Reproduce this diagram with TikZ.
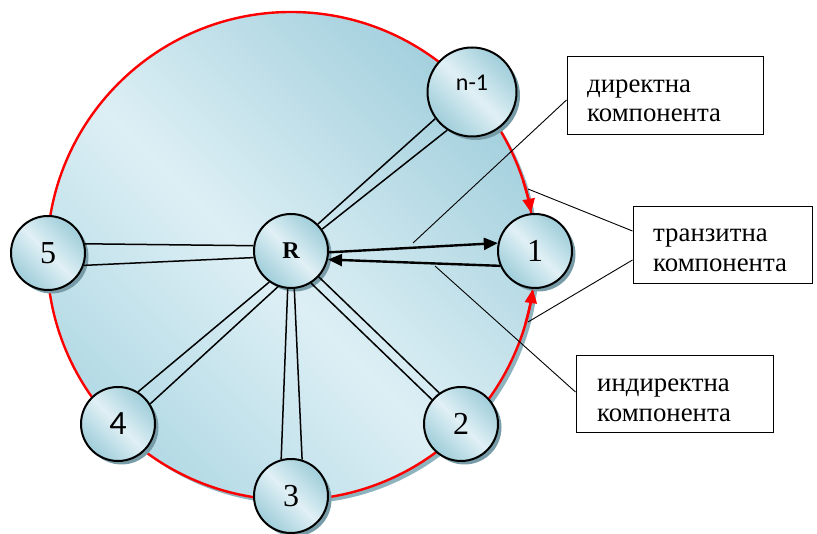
\documentclass[tikz,border=0pt]{standalone}
\usepackage{fontspec}
\setmainfont{Liberation Serif}
\newfontfamily\calib{Carlito}
\usetikzlibrary{arrows.meta,calc,shadows}
\definecolor{bigA}{HTML}{B3DAE5}
\definecolor{bigB}{HTML}{DDEFF5}
\definecolor{bigC}{HTML}{A3D0DD}
\definecolor{ndA}{HTML}{A4D0DC}
\definecolor{ndB}{HTML}{E0F0F5}
\definecolor{bigsh}{HTML}{8DB3BE}
\definecolor{ndsh}{HTML}{789CA7}
\pgfdeclarehorizontalshading{bigshade}{100bp}{color(0bp)=(bigA); color(25bp)=(bigA); color(47bp)=(bigB); color(75bp)=(bigC); color(100bp)=(bigC)}
\pgfdeclarehorizontalshading{ndshade}{100bp}{color(0bp)=(ndA); color(27bp)=(ndA); color(50bp)=(ndB); color(73bp)=(ndA); color(100bp)=(ndA)}
\begin{document}
\begin{tikzpicture}[x=1pt,y=1pt,
  nd/.style={circle, minimum size=74pt, inner sep=0pt, draw=black, line width=2pt,
    shading=ndshade, shading angle=45,
    general shadow={fill=ndsh, shadow xshift=3.5pt, shadow yshift=-3.5pt}},
  dbl/.style={draw=black, line width=1.5pt},
  bar/.style={draw=black, line width=2.4pt, -{Triangle[length=14pt,width=12pt]}},
  redarr/.style={draw=red, line width=2.4pt, -{Triangle[length=14pt,width=12pt]}},
  lbline/.style={draw=black, line width=0.9pt},
  box/.style={draw=black, line width=1pt, rectangle, inner sep=0pt},
  lbl/.style={inner sep=0pt, anchor=base west, font=\fontsize{26.8}{29}\selectfont}]
\useasboundingbox (0,0) rectangle (817,534);
\coordinate (big) at (291,278);
% big circle
\fill[bigsh] ($(big)+(4,-4)$) circle (244);
\shade[shading=bigshade, shading angle=45] (big) circle (244);
\draw[red, line width=2.4pt] (big) circle (244);
% label boxes
\node[box, minimum width=196pt, minimum height=78pt] (dbox) at (665,438) {};
\node[box, minimum width=179pt, minimum height=77pt] (tbox) at (722.5,288.5) {};
\node[box, minimum width=197pt, minimum height=77pt] (ibox) at (674.5,139.5) {};
\node[lbl] (dt1) at (587,441) {директна};
\node[lbl] (dt2) at (587,412) {компонента};
\node[lbl] (tt1) at (653,292) {транзитна};
\node[lbl] (tt2) at (653,262) {компонента};
\node[lbl] (it1) at (597,142) {индиректна};
\node[lbl] (it2) at (597,112) {компонента};
% nodes
\node[nd] (R) at (291,283) {\fontsize{24}{24}\selectfont\bfseries R};
\node[nd, minimum size=89pt] (n1) at (472,442) {};
\node[inner sep=0pt, font=\calib\fontsize{24}{24}\selectfont] (n1lab) at (472,451) {n-1};
\node[nd] (one) at (535,283) {\fontsize{32}{32}\selectfont 1};
\node[nd] (five) at (48,281) {\fontsize{32}{32}\selectfont 5};
\node[nd] (four) at (118,110) {\calib\fontsize{34}{34}\selectfont 4};
\node[nd] (three) at (291,38) {\fontsize{32}{32}\selectfont 3};
\node[nd] (two) at (461,110) {\fontsize{32}{32}\selectfont 2};
% double links
\draw[dbl] (R.45) -- (n1.216);
\draw[dbl] (R.35) -- (n1.237);
\draw[dbl] (R.172.5) -- (five.14.7);
\draw[dbl] (R.190.4) -- (five.341);
\draw[dbl] (R.235) -- (four.58);
\draw[dbl] (R.250) -- (four.32);
\draw[dbl] (R.265) -- (three.105.5);
\draw[dbl] (R.275) -- (three.73);
\draw[dbl] (R.302) -- (two.140);
\draw[dbl] (R.317) -- (two.125);
% arrows R <-> 1
\draw[bar] (R.358) -- (one.168);
\draw[bar] (one.203) -- (R.347);
% red arrows
\draw[redarr] ($(big)+(18:244)$) arc[start angle=18, end angle=10.2, radius=244];
\draw[redarr] ($(big)+(-16:244)$) arc[start angle=-16, end angle=-7.8, radius=244];
% label lines
\coordinate (dtip) at (413,291);
\coordinate (tup) at (528,345);
\coordinate (tlo) at (528,212);
\coordinate (itip) at (435,268);
\draw[lbline] ([yshift=-4pt]dbox.west) -- (dtip);
\draw[lbline] ([yshift=14.5pt]tbox.west) -- (tup);
\draw[lbline] ([yshift=-14.5pt]tbox.west) -- (tlo);
\draw[lbline] ([yshift=2.5pt]ibox.west) -- (itip);
\end{tikzpicture}
\end{document}
